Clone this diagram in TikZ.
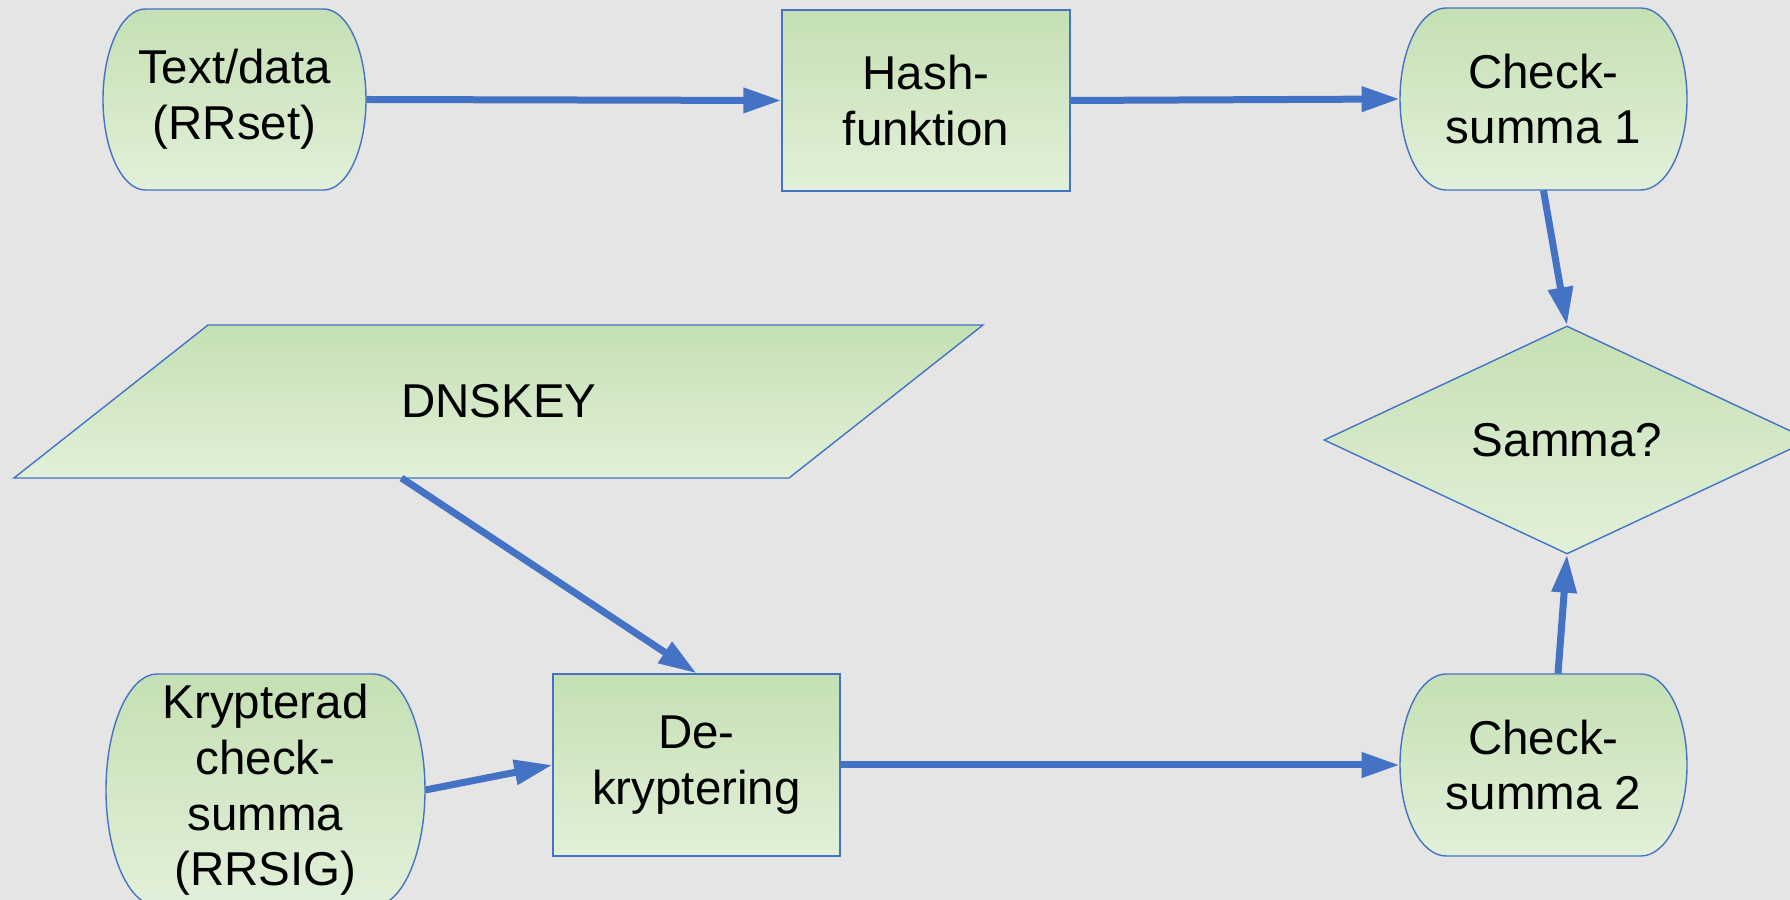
\documentclass[tikz,border=0pt]{standalone}
\usepackage{fontspec}
\setmainfont{Liberation Sans}
\usetikzlibrary{arrows.meta,shapes.geometric}
\definecolor{bgc}{RGB}{229,229,229}
\definecolor{edgeblue}{RGB}{68,114,196}
\definecolor{gtop}{RGB}{197,224,180}
\definecolor{gbot}{RGB}{226,240,217}
\newcommand{\drawterm}[4]{%
  \path[shapefill] ({#1-#3/2+0.161*#3},{#2+#4/2}) -- ({#1+#3/2-0.161*#3},{#2+#4/2})
    arc[start angle=90,end angle=-90,x radius={0.161*#3},y radius={#4/2}]
    -- ({#1-#3/2+0.161*#3},{#2-#4/2})
    arc[start angle=270,end angle=90,x radius={0.161*#3},y radius={#4/2}] -- cycle;}
\tikzset{
  shapefill/.style={draw=edgeblue,line width=0.7pt,top color=gtop,bottom color=gbot},
  txt/.style={shape=rectangle,inner sep=0pt,align=center,text=black,
    font=\fontsize{23.75pt}{27.8pt}\selectfont},
  procbox/.style={txt,shapefill},
  flow/.style={draw=edgeblue,line width=3.5pt,-{Triangle[length=19pt,width=12pt]}}
}
\begin{document}
\begin{tikzpicture}[x=0.5pt,y=0.5pt]
\useasboundingbox (0,0) rectangle (1790,900);
\clip (0,0) rectangle (1790,900);
\fill[bgc] (0,0) rectangle (1790,900);

% top row
\drawterm{234.5}{800.5}{263}{181}
\node[txt,minimum width=131.5pt,minimum height=90.5pt] (td) at (234.5,800.5) {Text/data\\(RRset)};
\node[procbox,minimum width=144pt,minimum height=90.5pt] (hash) at (926,799.5) {Hash-\\funktion};
\drawterm{1543.5}{801}{287}{182}
\node[txt,minimum width=143.5pt,minimum height=91pt] (cs1) at (1543.5,801) {Check-\\summa 1};

% decision
\node[shape=diamond,shapefill,inner sep=0pt,minimum width=243pt,minimum height=114pt,
  font=\fontsize{23.75pt}{27.8pt}\selectfont] (dia) at (1567,460) {Samma?};

% DNSKEY parallelogram
\path[shapefill] (208,575) -- (983,575) -- (789,422) -- (14,422) -- cycle;
\node[txt] (dns) at (499,498.5) {DNSKEY};
\coordinate (dnsb) at (401.5,422);

% bottom row
\drawterm{265.5}{110}{319}{232}
\node[txt,minimum width=159.5pt,minimum height=116pt] (kry) at (265.5,110) {Krypterad\\check-\\summa\\(RRSIG)};
\node[procbox,minimum width=143.5pt,minimum height=91pt] (dek) at (696.5,135) {De-\\kryptering};
\drawterm{1543.5}{135}{287}{182}
\node[txt,minimum width=143.5pt,minimum height=91pt] (cs2) at (1543.5,135) {Check-\\summa 2};

% connectors
\draw[flow] (td.east) -- (hash.west);
\draw[flow] (hash.east) -- (cs1.west);
\draw[flow] (cs1.south) -- (dia.north);
\draw[flow] (dnsb) -- (dek.north);
\draw[flow] (kry.east) -- (dek.west);
\draw[flow] (dek.east) -- (cs2.west);
\draw[flow] ([xshift=7.25pt]cs2.north) -- (dia.south);
\end{tikzpicture}
\end{document}
